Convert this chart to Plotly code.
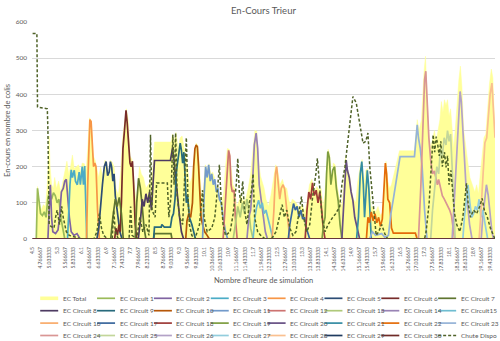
import plotly.graph_objects as go

TITLE = "En-Cours Trieur"
Y_TITLE = "En-cours en nombre de colis"
X_TITLE = "Nombre d'heure de simulation"

X_START, X_END = 4.5, 19.6

TICK_LABELS = ["4.5", "4.766667", "5.033333", "5.3", "5.566667", "5.833333", "6.1", "6.366667",
               "6.633333", "6.9", "7.166667", "7.433333", "7.7", "7.966667", "8.233333", "8.5",
               "8.766667", "9.033333", "9.3", "9.566667", "9.833333", "10.1", "10.366667", "10.633333",
               "10.9", "11.166667", "11.433333", "11.7", "11.966667", "12.233333", "12.5", "12.766667",
               "13.033333", "13.3", "13.566667", "13.833333", "14.1", "14.366667", "14.633333", "14.9",
               "15.166667", "15.433333", "15.7", "15.966667", "16.233333", "16.5", "16.766667",
               "17.033333", "17.3", "17.566667", "17.833333", "18.1", "18.366667", "18.633333", "18.9",
               "19.166667", "19.433333"]
Y_TICKS = [0, 100, 200, 300, 400, 500, 600]

# (hour, value) readings
EC_TOTAL = [(4.5, 0), (4.62, 0), (4.66, 145), (4.72, 100), (4.78, 80), (4.85, 95), (4.92, 90), (4.98, 150),
            (5.02, 220), (5.04, 285), (5.07, 200), (5.12, 150), (5.18, 140), (5.22, 170), (5.28, 140),
            (5.35, 160), (5.42, 130), (5.5, 170), (5.56, 190), (5.62, 215), (5.68, 180), (5.74, 200),
            (5.8, 232), (5.86, 195), (5.92, 200), (6.0, 205), (6.06, 185), (6.12, 210), (6.19, 208),
            (6.25, 190), (6.3, 250), (6.36, 335), (6.42, 325), (6.48, 230), (6.54, 218), (6.6, 190),
            (6.66, 170), (6.72, 200), (6.8, 170), (6.86, 218), (6.92, 212), (6.98, 178), (7.04, 218),
            (7.1, 212), (7.16, 200), (7.22, 140), (7.3, 120), (7.38, 190), (7.44, 280), (7.5, 320),
            (7.56, 360), (7.62, 330), (7.68, 230), (7.75, 218), (7.82, 150), (7.88, 100), (7.94, 150),
            (7.99, 200), (8.05, 180), (8.12, 170), (8.2, 140), (8.28, 150), (8.35, 160), (8.42, 190),
            (8.48, 268), (9.02, 268), (9.07, 290), (9.12, 270), (9.18, 295), (9.25, 250), (9.32, 280),
            (9.38, 285), (9.44, 260), (9.5, 230), (9.56, 200), (9.62, 150), (9.7, 170), (9.78, 230),
            (9.84, 265), (9.9, 258), (9.96, 170), (10.02, 110), (10.08, 140), (10.14, 205), (10.2, 190),
            (10.26, 208), (10.32, 180), (10.38, 185), (10.44, 170), (10.5, 140), (10.56, 145),
            (10.62, 115), (10.68, 100), (10.74, 130), (10.8, 200), (10.86, 250), (10.92, 248),
            (10.98, 200), (11.04, 150), (11.1, 140), (11.16, 90), (11.22, 100), (11.3, 120),
            (11.38, 105), (11.46, 110), (11.54, 140), (11.62, 180), (11.7, 250), (11.76, 300),
            (11.82, 298), (11.88, 220), (11.94, 175), (12.0, 160), (12.06, 140), (12.12, 110),
            (12.2, 90), (12.28, 120), (12.36, 160), (12.44, 205), (12.5, 190), (12.58, 150),
            (12.66, 165), (12.72, 145), (12.8, 140), (12.86, 110), (12.92, 95), (12.98, 110),
            (13.06, 105), (13.14, 95), (13.22, 85), (13.3, 95), (13.38, 75), (13.46, 100), (13.54, 150),
            (13.62, 165), (13.7, 130), (13.78, 145), (13.86, 135), (13.92, 140), (13.98, 90),
            (14.04, 120), (14.1, 200), (14.15, 248), (14.2, 235), (14.26, 165), (14.32, 210),
            (14.38, 205), (14.45, 145), (14.52, 110), (14.6, 90), (14.66, 150), (14.72, 225),
            (14.78, 195), (14.85, 175), (14.92, 130), (14.98, 110), (15.05, 100), (15.12, 160),
            (15.2, 200), (15.26, 220), (15.32, 150), (15.38, 190), (15.44, 195), (15.5, 140),
            (15.56, 90), (15.62, 85), (15.7, 75), (15.78, 90), (15.86, 65), (15.94, 75), (16.0, 180),
            (16.04, 215), (16.1, 160), (16.16, 140), (16.22, 150), (16.3, 180), (16.4, 220),
            (16.48, 244), (16.97, 244), (17.02, 285), (17.06, 330), (17.12, 300), (17.2, 330),
            (17.28, 460), (17.33, 505), (17.38, 400), (17.44, 290), (17.5, 250), (17.56, 280),
            (17.62, 300), (17.68, 270), (17.74, 300), (17.8, 330), (17.85, 380), (17.9, 350),
            (17.95, 385), (18.0, 370), (18.05, 385), (18.1, 340), (18.15, 360), (18.2, 300),
            (18.25, 250), (18.3, 300), (18.36, 380), (18.42, 440), (18.47, 478), (18.52, 420),
            (18.58, 300), (18.64, 250), (18.7, 220), (18.78, 170), (18.86, 150), (18.94, 130),
            (19.0, 150), (19.06, 125), (19.12, 180), (19.18, 230), (19.24, 280), (19.3, 290),
            (19.36, 360), (19.42, 430), (19.48, 470), (19.53, 445), (19.58, 330), (19.6, 300)]

CIRCUIT_01 = [(4.62, 0), (4.66, 140), (4.72, 90), (4.76, 70), (4.82, 65), (4.88, 75), (4.94, 60), (5.0, 115),
              (5.06, 130), (5.12, 110), (5.18, 128), (5.24, 120), (5.3, 100), (5.36, 110), (5.42, 60),
              (5.5, 20), (5.55, 0)]
CIRCUIT_02 = [(5.0, 0), (5.04, 80), (5.08, 150), (5.12, 60), (5.16, 20), (5.25, 15), (5.33, 25), (5.38, 60),
              (5.44, 130), (5.5, 140), (5.55, 160), (5.6, 165), (5.64, 120), (5.7, 60), (5.76, 20),
              (5.85, 10), (5.95, 15), (6.05, 0)]
CIRCUIT_03 = [(5.64, 0), (5.72, 150), (5.76, 191), (5.8, 170), (5.86, 190), (5.9, 160), (5.96, 150),
              (6.02, 185), (6.06, 150), (6.12, 200), (6.16, 150), (6.2, 202), (6.24, 100), (6.27, 0)]
CIRCUIT_04 = [(6.26, 0), (6.3, 150), (6.34, 300), (6.37, 330), (6.41, 325), (6.45, 250), (6.49, 200),
              (6.53, 210), (6.57, 200), (6.62, 80), (6.68, 0)]
CIRCUIT_05 = [(6.6, 0), (6.66, 30), (6.72, 100), (6.78, 150), (6.84, 200), (6.9, 214), (6.95, 175),
              (7.0, 185), (7.04, 214), (7.08, 200), (7.12, 160), (7.16, 180), (7.2, 120), (7.28, 60),
              (7.35, 20), (7.42, 0)]
CIRCUIT_06 = [(7.18, 0), (7.22, 30), (7.27, 10), (7.32, 40), (7.36, 20), (7.4, 100), (7.45, 250), (7.5, 300),
              (7.55, 356), (7.59, 320), (7.63, 280), (7.68, 210), (7.72, 200), (7.76, 215), (7.8, 150),
              (7.85, 40), (7.9, 0)]
CIRCUIT_07 = [(7.05, 0), (7.12, 60), (7.2, 110), (7.26, 90), (7.33, 115), (7.4, 70), (7.46, 0), (7.85, 0),
              (7.9, 100), (7.96, 168), (8.02, 140), (8.08, 90), (8.14, 30), (8.2, 0), (8.45, 0), (8.48, 15),
              (9.02, 15), (9.05, 0)]
CIRCUIT_08 = [(7.95, 0), (8.02, 50), (8.08, 110), (8.14, 90), (8.2, 125), (8.26, 100), (8.32, 130),
              (8.38, 80), (8.44, 150), (8.48, 217), (9.0, 217), (9.04, 235), (9.07, 252), (9.12, 215),
              (9.18, 160), (9.24, 110), (9.3, 60), (9.36, 20), (9.43, 0)]
CIRCUIT_09 = [(8.45, 0), (8.48, 33), (8.7, 33), (8.72, 40), (8.8, 33), (9.0, 33), (9.05, 60), (9.1, 70),
              (9.15, 110), (9.2, 190), (9.26, 230), (9.32, 265), (9.36, 245), (9.4, 210), (9.44, 240),
              (9.48, 160), (9.52, 100), (9.56, 120), (9.62, 60), (9.7, 40), (9.78, 10), (9.82, 0)]
CIRCUIT_10 = [(9.5, 0), (9.54, 50), (9.6, 70), (9.66, 60), (9.72, 100), (9.76, 200), (9.8, 250), (9.84, 260),
              (9.88, 255), (9.92, 200), (9.96, 120), (10.0, 60), (10.05, 40), (10.12, 20), (10.2, 10),
              (10.27, 0)]
CIRCUIT_11 = [(10.05, 0), (10.1, 120), (10.15, 200), (10.2, 170), (10.25, 205), (10.3, 160), (10.35, 180),
              (10.4, 150), (10.45, 165), (10.5, 130), (10.55, 140), (10.6, 110), (10.66, 100),
              (10.72, 60), (10.8, 20), (10.87, 0)]
CIRCUIT_12 = [(10.72, 0), (10.78, 80), (10.84, 180), (10.9, 245), (10.94, 230), (10.98, 150), (11.02, 130),
              (11.08, 135), (11.12, 60), (11.18, 0)]
CIRCUIT_13 = [(11.05, 0), (11.12, 40), (11.2, 90), (11.28, 60), (11.35, 100), (11.42, 70), (11.5, 110),
              (11.56, 80), (11.62, 30), (11.7, 0)]
CIRCUIT_14 = [(11.5, 0), (11.56, 60), (11.62, 80), (11.68, 150), (11.74, 260), (11.8, 293), (11.85, 250),
              (11.9, 150), (11.96, 110), (12.02, 60), (12.1, 20), (12.17, 0)]
CIRCUIT_15 = [(11.7, 0), (11.76, 60), (11.82, 90), (11.88, 107), (11.94, 85), (12.0, 100), (12.06, 70),
              (12.12, 80), (12.2, 50), (12.28, 20), (12.35, 0)]
CIRCUIT_16 = [(12.32, 0), (12.38, 80), (12.43, 180), (12.47, 200), (12.52, 150), (12.57, 110), (12.62, 140),
              (12.68, 150), (12.73, 138), (12.78, 100), (12.84, 40), (12.9, 0)]
CIRCUIT_17 = [(12.85, 0), (12.9, 40), (12.96, 70), (13.02, 98), (13.08, 80), (13.14, 90), (13.2, 60),
              (13.26, 80), (13.32, 55), (13.38, 60), (13.44, 30), (13.5, 10), (13.55, 0)]
CIRCUIT_18 = [(13.4, 0), (13.46, 80), (13.52, 130), (13.58, 110), (13.64, 155), (13.7, 120), (13.76, 135),
              (13.82, 100), (13.88, 130), (13.94, 80), (13.99, 30), (14.05, 0)]
CIRCUIT_19 = [(13.95, 0), (14.0, 40), (14.05, 60), (14.1, 180), (14.14, 242), (14.19, 225), (14.24, 150),
              (14.3, 190), (14.36, 200), (14.42, 140), (14.48, 105), (14.54, 40), (14.6, 0)]
CIRCUIT_20 = [(14.6, 0), (14.65, 80), (14.7, 180), (14.74, 218), (14.78, 190), (14.84, 170), (14.9, 130),
              (14.96, 106), (15.02, 60), (15.1, 30), (15.18, 0)]
CIRCUIT_21 = [(15.08, 0), (15.14, 60), (15.2, 180), (15.25, 214), (15.3, 150), (15.34, 60), (15.38, 120),
              (15.43, 190), (15.48, 140), (15.52, 60), (15.56, 0)]
CIRCUIT_22 = [(15.4, 0), (15.45, 60), (15.5, 45), (15.56, 75), (15.62, 50), (15.68, 70), (15.74, 45),
              (15.8, 60), (15.86, 35), (15.92, 55), (15.97, 120), (16.02, 210), (16.06, 180), (16.1, 110),
              (16.16, 100), (16.22, 30), (16.28, 16), (17.0, 16), (17.06, 0)]
CIRCUIT_23 = [(15.5, 0), (15.6, 20), (15.7, 10), (15.9, 15), (16.0, 5), (16.12, 10), (16.2, 70), (16.28, 110),
              (16.34, 145), (16.4, 180), (16.46, 215), (16.5, 228), (16.97, 228), (17.01, 270),
              (17.06, 316), (17.1, 280), (17.16, 250), (17.22, 200), (17.3, 80), (17.38, 0)]
CIRCUIT_24 = [(17.1, 0), (17.18, 150), (17.25, 350), (17.3, 440), (17.34, 464), (17.38, 380), (17.44, 280),
              (17.5, 218), (17.56, 180), (17.62, 188), (17.66, 174), (17.72, 150), (17.76, 165),
              (17.82, 140), (17.88, 120), (17.94, 111), (18.0, 100), (18.06, 93), (18.12, 80),
              (18.18, 64), (18.24, 30), (18.28, 0)]
CIRCUIT_25 = [(17.5, 0), (17.56, 80), (17.62, 140), (17.7, 200), (17.76, 180), (17.82, 250), (17.88, 230),
              (17.94, 280), (18.0, 260), (18.05, 300), (18.1, 270), (18.15, 290), (18.2, 200), (18.25, 80),
              (18.3, 0)]
CIRCUIT_26 = [(18.2, 0), (18.28, 120), (18.34, 218), (18.4, 330), (18.46, 408), (18.5, 380), (18.55, 300),
              (18.6, 218), (18.65, 150), (18.7, 100), (18.77, 40), (18.85, 0), (19.15, 0), (19.2, 60),
              (19.26, 110), (19.32, 150), (19.38, 120), (19.44, 60), (19.5, 20), (19.55, 0)]
CIRCUIT_27 = [(18.55, 0), (18.6, 60), (18.66, 110), (18.72, 150), (18.78, 100), (18.84, 60), (18.9, 70),
              (18.96, 90), (19.02, 80), (19.08, 110), (19.14, 60), (19.2, 80), (19.28, 40), (19.36, 0)]
CIRCUIT_28 = [(19.08, 0), (19.13, 60), (19.2, 150), (19.27, 266), (19.33, 280), (19.38, 350), (19.44, 400),
              (19.5, 431), (19.54, 380), (19.58, 300), (19.6, 280)]
CIRCUIT_29 = []
CIRCUIT_30 = []

CHUTE_DISPO = [(4.5, 568), (4.64, 568), (4.66, 365), (4.98, 360), (5.0, 300), (5.04, 40), (5.1, 35), (5.2, 30),
               (5.25, 60), (5.3, 80), (5.38, 40), (5.45, 90), (5.5, 60), (5.6, 20), (5.7, 10), (5.9, 5),
               (6.1, 0), (6.5, 0), (6.6, 20), (6.68, 70), (6.75, 30), (6.82, 10), (6.95, 0), (7.1, 0),
               (7.15, 80), (7.2, 20), (7.3, 0), (7.65, 0), (7.7, 90), (7.75, 10), (7.9, 0), (8.0, 60),
               (8.1, 20), (8.2, 40), (8.3, 10), (8.35, 288), (8.4, 80), (8.5, 60), (8.55, 155), (8.9, 155),
               (8.95, 60), (9.02, 120), (9.08, 288), (9.12, 150), (9.17, 293), (9.22, 120), (9.3, 60),
               (9.4, 40), (9.47, 180), (9.52, 280), (9.57, 120), (9.62, 40), (9.7, 10), (9.8, 0),
               (9.95, 40), (10.0, 80), (10.05, 135), (10.1, 60), (10.2, 20), (10.35, 30), (10.45, 60),
               (10.55, 150), (10.6, 205), (10.65, 120), (10.72, 40), (10.8, 10), (10.95, 20), (11.05, 70),
               (11.15, 150), (11.2, 223), (11.25, 130), (11.3, 100), (11.36, 160), (11.42, 80), (11.5, 40),
               (11.58, 100), (11.65, 135), (11.7, 180), (11.75, 60), (11.85, 20), (11.95, 10), (12.1, 0),
               (12.3, 0), (12.45, 20), (12.55, 60), (12.65, 95), (12.72, 60), (12.8, 80), (12.9, 30),
               (13.0, 10), (13.1, 20), (13.2, 80), (13.28, 117), (13.35, 60), (13.45, 20), (13.55, 40),
               (13.65, 120), (13.75, 180), (13.8, 223), (13.87, 150), (13.95, 60), (14.05, 20), (14.15, 40),
               (14.3, 60), (14.4, 70), (14.53, 90), (14.6, 150), (14.7, 200), (14.74, 228), (14.85, 320),
               (14.96, 394), (15.07, 376), (15.18, 320), (15.29, 265), (15.38, 270), (15.45, 293),
               (15.51, 200), (15.62, 90), (15.72, 10), (15.8, 20), (15.9, 40), (16.0, 15), (16.1, 0),
               (17.3, 0), (17.35, 20), (17.45, 100), (17.52, 220), (17.58, 288), (17.63, 240), (17.68, 283),
               (17.73, 260), (17.78, 230), (17.83, 270), (17.88, 200), (17.95, 240), (18.0, 198),
               (18.05, 230), (18.1, 150), (18.16, 190), (18.22, 120), (18.28, 70), (18.35, 40), (18.45, 20),
               (18.55, 60), (18.62, 120), (18.67, 154), (18.72, 100), (18.8, 60), (18.9, 80), (19.0, 70),
               (19.1, 90), (19.18, 112), (19.25, 80), (19.35, 60), (19.45, 30), (19.55, 10), (19.6, 0)]

CIRCUITS = [CIRCUIT_01, CIRCUIT_02, CIRCUIT_03, CIRCUIT_04, CIRCUIT_05, CIRCUIT_06, CIRCUIT_07, CIRCUIT_08,
            CIRCUIT_09, CIRCUIT_10, CIRCUIT_11, CIRCUIT_12, CIRCUIT_13, CIRCUIT_14, CIRCUIT_15, CIRCUIT_16,
            CIRCUIT_17, CIRCUIT_18, CIRCUIT_19, CIRCUIT_20, CIRCUIT_21, CIRCUIT_22, CIRCUIT_23, CIRCUIT_24,
            CIRCUIT_25, CIRCUIT_26, CIRCUIT_27, CIRCUIT_28, CIRCUIT_29, CIRCUIT_30]
CIRCUIT_NAMES = ["EC Circuit %d" % i if i != 15 else "EC Circuit15" for i in range(1, 31)]
CIRCUIT_COLORS = ["#9BBB59", "#8064A2", "#4BACC6", "#F79646", "#2C4D75", "#772C2A", "#5F7530", "#4D3B62",
                  "#276A7C", "#B65708", "#729ACA", "#CD7371", "#AFC97A", "#9983B5", "#6FBDD1", "#F9AB6B",
                  "#3A679C", "#9E3A38", "#7E9D40", "#664F83", "#358CA3", "#E46C0A", "#95B3D7", "#D99694",
                  "#C3D69B", "#B3A2C7", "#93CDDD", "#FAC090", "#1F3A5F", "#6E2A27"]
TOTAL_NAME, TOTAL_COLOR = "EC Total", "#FFFF99"
CHUTE_NAME, CHUTE_COLOR = "Chute Dispo", "#4F6228"

TXT = "#595959"
FONT = "Lato"
L, R, T, B = 32, 5, 22, 102
W, H = 500, 341
PW, PH = W - L - R, H - T - B


def pad(pts):
    pts = list(pts)
    if not pts or pts[0][0] > X_START:
        pts = [(X_START, 0)] + pts
    if pts[-1][0] < X_END:
        pts = pts + [(X_END, 0)]
    return [p[0] for p in pts], [p[1] for p in pts]


fig = go.Figure()
tx, ty = pad(EC_TOTAL)
fig.add_trace(go.Scatter(x=tx, y=ty, name=TOTAL_NAME, mode="lines", fill="tozeroy",
                         fillcolor=TOTAL_COLOR, line=dict(color=TOTAL_COLOR, width=0.5), showlegend=False))
for pts, name, col in zip(CIRCUITS, CIRCUIT_NAMES, CIRCUIT_COLORS):
    cx, cy = pad(pts)
    fig.add_trace(go.Scatter(x=cx, y=cy, name=name, mode="lines",
                             line=dict(color=col, width=1.7), showlegend=False))
dx, dy = pad(CHUTE_DISPO)
fig.add_trace(go.Scatter(x=dx, y=dy, name=CHUTE_NAME, mode="lines",
                         line=dict(color=CHUTE_COLOR, width=1.5, dash="3px,2px"), showlegend=False))

# manual legend: 4 rows x 8 columns
legend_items = [(TOTAL_NAME, TOTAL_COLOR, "total")] + \
               [(n, c, "line") for n, c in zip(CIRCUIT_NAMES, CIRCUIT_COLORS)] + \
               [(CHUTE_NAME, CHUTE_COLOR, "dash")]
shapes, annots = [], []


def xp(px):
    return (px - L) / PW


def yp(py):
    return (H - B - py) / PH


for i, (name, col, kind) in enumerate(legend_items):
    r, c = divmod(i, 8)
    tx0 = 60.7 + 56.85 * c
    py = 298.3 + 12.4 * r
    if kind == "total":
        shapes.append(dict(type="rect", xref="paper", yref="paper", x0=xp(tx0 - 20.5), x1=xp(tx0 - 2.5),
                           y0=yp(py + 1.8), y1=yp(py - 1.8), fillcolor=col, line=dict(width=0)))
    else:
        shapes.append(dict(type="line", xref="paper", yref="paper", x0=xp(tx0 - 20.5), x1=xp(tx0 - 2.5),
                           y0=yp(py), y1=yp(py),
                           line=dict(color=col, width=1.7 if kind == "line" else 1.5,
                                     dash="solid" if kind == "line" else "3px,2px")))
    annots.append(dict(text=name, xref="paper", yref="paper", x=xp(tx0), y=yp(py), xanchor="left",
                       yanchor="middle", showarrow=False, font=dict(size=6.5, color=TXT, family=FONT)))

annots.append(dict(text=Y_TITLE, xref="paper", yref="paper", x=xp(7.5), y=0.5, xanchor="center",
                   yanchor="middle", textangle=-90, showarrow=False, font=dict(size=7.5, color=TXT, family=FONT)))
annots.append(dict(text=X_TITLE, xref="paper", yref="paper", x=0.5, y=yp(280), xanchor="center",
                   yanchor="middle", showarrow=False, font=dict(size=7.5, color=TXT, family=FONT)))
annots.append(dict(text=TITLE, xref="paper", yref="paper", x=0.5, y=yp(10.5), xanchor="center",
                   yanchor="middle", showarrow=False, font=dict(size=9.5, color=TXT, family=FONT)))

fig.update_layout(
    width=W, height=H, margin=dict(l=L, r=R, t=T, b=B),
    paper_bgcolor="white", plot_bgcolor="white",
    shapes=shapes, annotations=annots, showlegend=False,
    font=dict(family=FONT, color=TXT),
    xaxis=dict(range=[4.48, X_END], tickmode="array", tickvals=[float(s) for s in TICK_LABELS],
               ticktext=TICK_LABELS, tickangle=-90, tickfont=dict(size=5, color=TXT, family=FONT),
               showgrid=False, zeroline=False, showline=False, ticks="", ticklabelstandoff=6),
    yaxis=dict(range=[0, 600], tickvals=Y_TICKS, tickfont=dict(size=6.5, color=TXT, family=FONT),
               showgrid=True, gridcolor="#D9D9D9", gridwidth=1, zeroline=False, showline=False,
               ticks="", ticklabelstandoff=4),
)

fig.write_html("out.html")
